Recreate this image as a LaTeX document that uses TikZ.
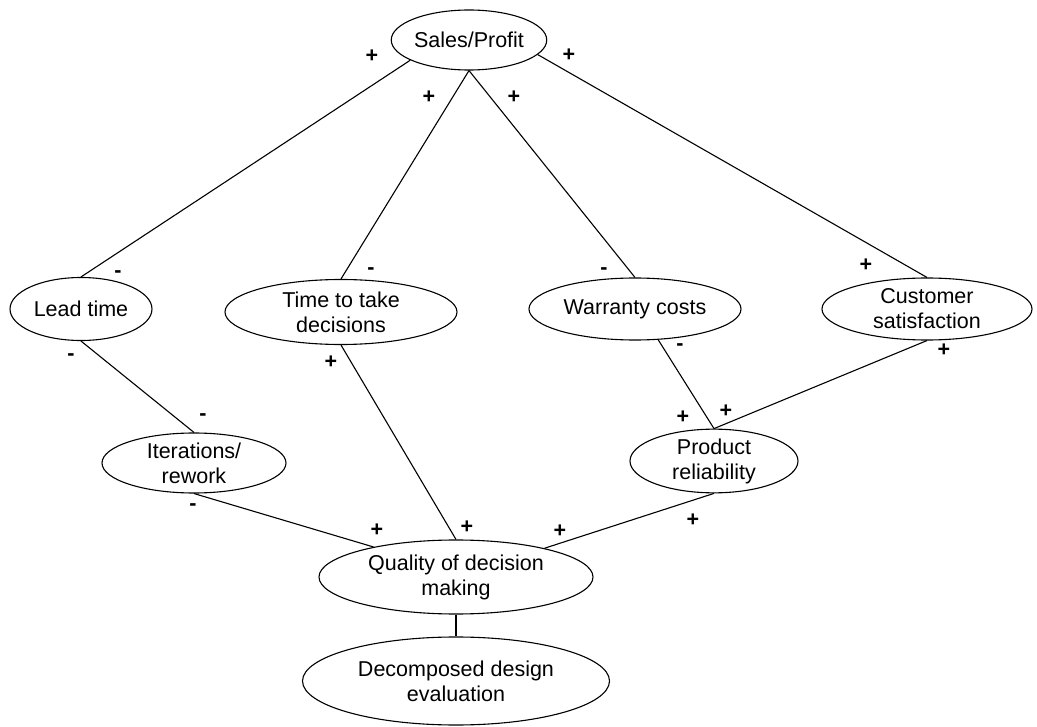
\documentclass[tikz,border=0pt]{standalone}
\usepackage{fontspec}
\setmainfont{Liberation Sans}
\usetikzlibrary{shapes.geometric}

\tikzset{
  factor/.style={draw, ellipse, line width=1.1pt, inner sep=0pt, align=center,
    font=\fontsize{21.5}{25}\selectfont},
  link/.style={line width=1.1pt},
  sign/.style={inner sep=0pt, font=\fontsize{21.5}{25}\selectfont\bfseries}
}

\begin{document}
\begin{tikzpicture}[x=1pt, y=-1pt]
  \useasboundingbox (0,0) rectangle (1037,727);

  % factors
  \node[factor, minimum width=154, minimum height=60] (sales)    at (469,40)  {Sales/Profit};
  \node[factor, minimum width=142, minimum height=63] (lead)     at (81,309)  {Lead time};
  \node[factor, minimum width=232, minimum height=65] (time)     at (341,312) {Time to take\\decisions};
  \node[factor, minimum width=212, minimum height=62] (warranty) at (635,309) {Warranty costs};
  \node[factor, minimum width=210, minimum height=62] (customer) at (927,309) {Customer\\satisfaction};
  \node[factor, minimum width=184, minimum height=60] (iter)     at (194,463) {Iterations/\\rework};
  \node[factor, minimum width=168, minimum height=61] (prod)     at (714,461) {Product\\reliability};
  \node[factor, minimum width=274, minimum height=74] (quality)  at (456,577) {Quality of decision\\making};
  \node[factor, minimum width=307, minimum height=88] (decomp)   at (456,681) {Decomposed design\\evaluation};

  % influence links
  \draw[link] (sales.199) -- (lead.north);
  \draw[link] (sales.south) -- (time.north);
  \draw[link] (sales.south) -- (warranty.north);
  \draw[link] (sales.348) -- (customer.north);
  \draw[link] (lead.south) -- (iter.north);
  \draw[link] (time.south) -- (quality.north);
  \draw[link] (warranty.307) -- (prod.north);
  \draw[link] (customer.south) -- (prod.north);
  \draw[link] (iter.south) -- (quality.160);
  \draw[link] (prod.south) -- (quality.18);
  \draw[link] (quality.south) -- (decomp.north);

  % polarity signs
  \node[sign] (p1)  at (372,56)  {+};
  \node[sign] (p2)  at (429,97)  {+};
  \node[sign] (p3)  at (514,97)  {+};
  \node[sign] (p4)  at (569,55)  {+};
  \node[sign] (m1)  at (118,274) {-};
  \node[sign] (m2)  at (371,271) {-};
  \node[sign] (m3)  at (604,271) {-};
  \node[sign] (p5)  at (866,265) {+};
  \node[sign] (m4)  at (71,357)  {-};
  \node[sign] (p6)  at (331,362) {+};
  \node[sign] (m5)  at (680,347) {-};
  \node[sign] (p7)  at (944,350) {+};
  \node[sign] (m6)  at (203,417) {-};
  \node[sign] (p8)  at (683,417) {+};
  \node[sign] (p9)  at (726,411) {+};
  \node[sign] (m7)  at (193,507) {-};
  \node[sign] (p10) at (377,530) {+};
  \node[sign] (p11) at (467,527) {+};
  \node[sign] (p12) at (560,531) {+};
  \node[sign] (p13) at (693,520) {+};
\end{tikzpicture}
\end{document}
